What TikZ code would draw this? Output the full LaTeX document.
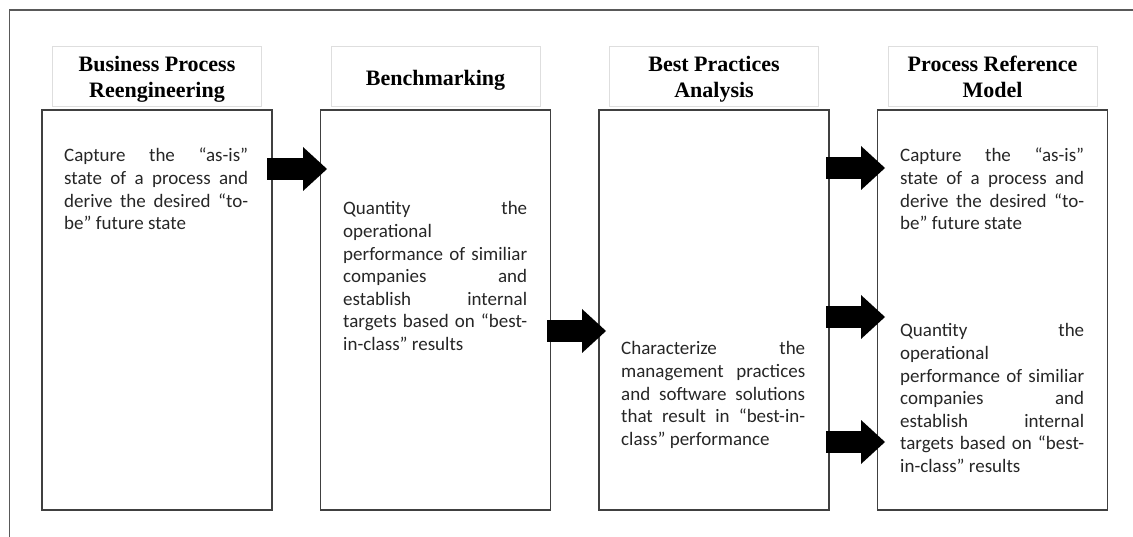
\documentclass[tikz,border=0pt]{standalone}
\usepackage{fontspec}
\setmainfont{Carlito}
\newfontfamily\headfont{Liberation Serif}
\usetikzlibrary{arrows.meta}
\tolerance=10000
\hbadness=10000

\begin{document}
\begin{tikzpicture}[x = 1pt, y = -1pt,
	frame/.style = {draw = black!65, line width = 1.2pt},
	mainbox/.style = {draw = black!75, line width = 1.4pt, minimum width = 230pt, minimum height = 400pt, inner sep = 0pt},
	headbox/.style = {draw = black!13, line width = 0.8pt, minimum width = 209pt, minimum height = 60pt, inner sep = 0pt, align = center, text height = 49pt, text depth = 5pt, font = \headfont\bfseries\fontsize{22}{26}\selectfont},
	bodytext/.style = {anchor = base west, inner sep = 0pt, text width = 184pt, align = justify, text = black!85, font = \fontsize{19}{22.6}\selectfont},
	fatarrow/.style = {line width = 22pt, -{Triangle[length = 24pt, width = 44pt, line width = 0pt]}}]
		\useasboundingbox (0, 0) rectangle (1133, 537);
		\draw[frame] (9.5, 537) -- (9.5, 10) -- (1133, 10);
		\node[mainbox] (BPR) at (157, 310) {};
		\node[mainbox] (BM) at (435.5, 310) {};
		\node[mainbox] (BPA) at (714, 310) {};
		\node[mainbox] (PRM) at (992.5, 310) {};
		\node[headbox] (BPRHead) at (157, 76) {Business Process\\Reengineering};
		\node[headbox, text height = 24pt] (BMHead) at (435.5, 76) {Benchmarking};
		\node[headbox] (BPAHead) at (714, 76) {Best Practices\\Analysis};
		\node[headbox] (PRMHead) at (992.5, 76) {Process Reference\\Model};
		\node[bodytext] (BPRText) at (64, 162) {Capture the “as-is”\linebreak state of a process and\linebreak derive the desired “to-\linebreak be” future state};
		\node[bodytext] (BMText) at (343, 215) {Quantity the\linebreak operational\linebreak performance of similiar\linebreak companies and\linebreak establish internal\linebreak targets based on “best-\linebreak in-class” results};
		\node[bodytext] (BPAText) at (621, 355) {Characterize the\linebreak management practices\linebreak and software solutions\linebreak that result in “best-in-\linebreak class” performance};
		\node[bodytext] (PRMTextA) at (900, 162) {Capture the “as-is”\linebreak state of a process and\linebreak derive the desired “to-\linebreak be” future state};
		\node[bodytext] (PRMTextB) at (900, 337) {Quantity the\linebreak operational\linebreak performance of similiar\linebreak companies and\linebreak establish internal\linebreak targets based on “best-\linebreak in-class” results};
		\coordinate (A1) at (267, 169);
		\coordinate (B1) at (327, 169);
		\coordinate (A2) at (547, 331);
		\coordinate (B2) at (606, 331);
		\coordinate (A3) at (826, 168);
		\coordinate (B3) at (885, 168);
		\coordinate (A4) at (826, 317);
		\coordinate (B4) at (885, 317);
		\coordinate (A5) at (826, 442);
		\coordinate (B5) at (885, 442);
		\draw[fatarrow] (A1) -- (B1);
		\draw[fatarrow] (A2) -- (B2);
		\draw[fatarrow] (A3) -- (B3);
		\draw[fatarrow] (A4) -- (B4);
		\draw[fatarrow] (A5) -- (B5);
	\end{tikzpicture}
\end{document}
